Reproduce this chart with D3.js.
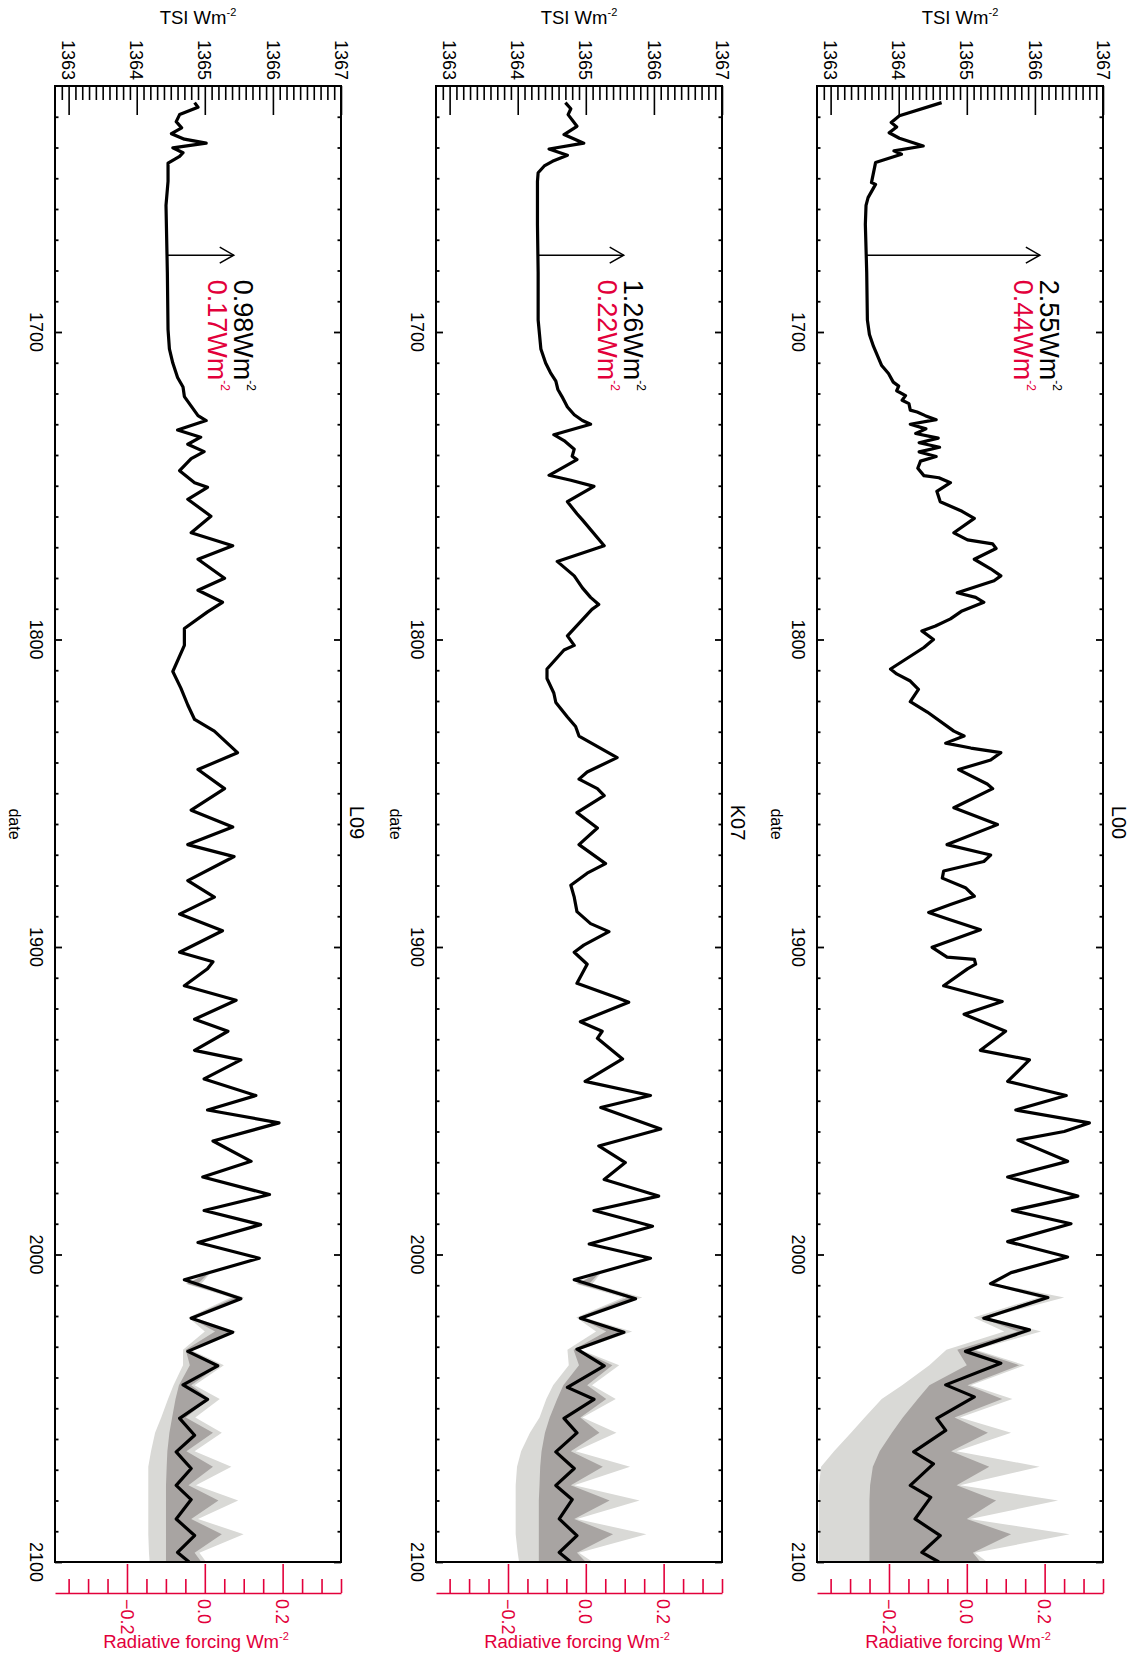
<!DOCTYPE html>
<html><head><meta charset="utf-8">
<script src="https://cdn.jsdelivr.net/npm/d3@7"></script>
<style>body{margin:0;background:#fff}svg{display:block}text{font-family:"Liberation Sans",Arial,Helvetica,sans-serif}</style>
</head><body><svg id="c" width="1136" height="1656"></svg>
<script>
// ---------- DATA ----------
const panelNames = ['L00', 'K07', 'L09'];
const tsiTicks = [1363, 1364, 1365, 1366, 1367];
const yearTicks = [1700, 1800, 1900, 2000, 2100];
const rfTicks = [-0.2, 0.0, 0.2];
const deltaTsi = [2.55, 1.26, 0.98];
const deltaRf = [0.44, 0.22, 0.17];

const l00Series = [[1625.4,1364.63],[1629.7,1364.01],[1631.9,1363.89],[1633.3,1363.97],[1635.2,1363.86],[1637.0,1364.01],[1639.5,1364.36],[1641.1,1363.93],[1642.2,1364.04],[1644.9,1363.66],[1651.4,1363.60],[1652.0,1363.66],[1656.3,1363.55],[1658.8,1363.52],[1665.0,1363.51],[1680.6,1363.53],[1696.1,1363.54],[1700.8,1363.57],[1704.7,1363.63],[1708.3,1363.70],[1710.9,1363.75],[1713.5,1363.85],[1716.3,1363.92],[1717.6,1364.00],[1719.1,1363.97],[1720.7,1364.10],[1722.2,1364.05],[1723.3,1364.15],[1725.4,1364.17],[1726.0,1364.27],[1727.2,1364.39],[1728.5,1364.55],[1730.0,1364.17],[1731.5,1364.40],[1733.0,1364.25],[1734.5,1364.58],[1736.0,1364.30],[1737.5,1364.60],[1739.0,1364.30],[1740.5,1364.55],[1742.0,1364.32],[1744.3,1364.28],[1746.7,1364.37],[1747.4,1364.59],[1749.0,1364.76],[1751.8,1364.56],[1755.2,1364.61],[1758.3,1364.93],[1760.6,1365.11],[1765.3,1364.81],[1767.6,1365.01],[1768.9,1365.38],[1770.4,1365.43],[1773.9,1365.11],[1777.0,1365.35],[1779.3,1365.50],[1780.9,1365.40],[1784.8,1364.86],[1786.3,1365.13],[1787.9,1365.25],[1790.7,1364.93],[1793.3,1364.76],[1795.6,1364.54],[1797.2,1364.34],[1800.0,1364.51],[1802.6,1364.37],[1809.6,1363.88],[1811.2,1363.97],[1813.5,1364.17],[1816.2,1364.29],[1820.2,1364.17],[1823.6,1364.42],[1829.8,1364.81],[1831.4,1364.96],[1833.7,1364.69],[1835.3,1365.06],[1836.8,1365.50],[1839.2,1365.35],[1842.3,1364.88],[1847.0,1365.30],[1848.5,1365.38],[1854.7,1364.81],[1860.2,1365.45],[1866.7,1364.71],[1870.1,1365.35],[1872.2,1365.25],[1875.3,1364.66],[1877.6,1364.64],[1880.7,1364.98],[1883.5,1365.11],[1886.2,1364.76],[1888.8,1364.44],[1890.8,1364.71],[1894.4,1365.20],[1900.1,1364.49],[1903.3,1364.71],[1904.0,1365.11],[1905.6,1365.13],[1907.1,1365.01],[1912.6,1364.66],[1917.7,1365.52],[1921.9,1364.96],[1927.4,1365.57],[1933.6,1365.20],[1936.7,1365.92],[1943.7,1365.60],[1948.3,1366.46],[1953.0,1365.72],[1957.2,1366.80],[1960.0,1366.43],[1962.8,1365.75],[1969.7,1366.48],[1974.8,1365.60],[1981.0,1366.63],[1985.7,1365.67],[1990.0,1366.53],[1995.8,1365.60],[2000.8,1366.48],[2005.9,1365.65],[2009.5,1365.35],[2014.0,1366.19],[2020.7,1365.25],[2024.5,1365.92],[2031.5,1364.98],[2035.4,1365.50],[2042.4,1364.69],[2046.3,1365.11],[2053.3,1364.56],[2057.2,1364.69],[2064.2,1364.22],[2068.1,1364.51],[2075.1,1364.17],[2079.0,1364.47],[2086.0,1364.24],[2091.4,1364.61],[2096.9,1364.34],[2100.0,1364.59]];

const k07Series = [[1625.4,1364.70],[1627.4,1364.78],[1629.3,1364.74],[1633.1,1364.87],[1635.8,1364.68],[1638.6,1364.97],[1640.5,1364.46],[1642.5,1364.73],[1644.5,1364.51],[1646.0,1364.39],[1648.2,1364.30],[1651.0,1364.29],[1665.0,1364.29],[1680.6,1364.30],[1696.1,1364.30],[1705.5,1364.34],[1710.1,1364.41],[1713.2,1364.48],[1716.0,1364.56],[1718.7,1364.59],[1721.0,1364.65],[1724.4,1364.73],[1726.9,1364.83],[1728.8,1364.95],[1730.0,1365.07],[1733.4,1364.53],[1735.3,1364.68],[1738.1,1364.83],[1740.4,1364.80],[1741.5,1364.87],[1746.6,1364.46],[1748.2,1364.78],[1750.2,1365.12],[1755.2,1364.73],[1759.1,1364.87],[1761.1,1364.95],[1769.5,1365.27],[1774.6,1364.58],[1779.3,1364.83],[1783.2,1364.95],[1786.3,1365.07],[1788.6,1365.19],[1790.2,1365.09],[1798.8,1364.73],[1801.9,1364.83],[1803.4,1364.68],[1809.6,1364.43],[1812.7,1364.43],[1817.4,1364.53],[1820.5,1364.56],[1825.2,1364.73],[1828.3,1364.85],[1831.4,1364.90],[1838.4,1365.46],[1843.1,1365.02],[1845.4,1364.90],[1848.5,1365.17],[1850.8,1365.27],[1856.3,1364.87],[1861.3,1365.17],[1866.7,1364.90],[1872.9,1365.29],[1876.0,1365.02],[1879.9,1364.78],[1883.8,1364.83],[1888.5,1364.87],[1892.4,1365.07],[1895.0,1365.34],[1899.4,1364.97],[1901.7,1364.83],[1905.6,1365.02],[1911.8,1364.87],[1916.5,1365.46],[1918.0,1365.63],[1924.3,1364.92],[1927.4,1365.24],[1929.7,1365.17],[1936.4,1365.54],[1943.7,1364.99],[1948.3,1365.95],[1952.2,1365.22],[1959.2,1366.10],[1964.7,1365.19],[1970.1,1365.58],[1975.6,1365.27],[1981.0,1366.07],[1985.7,1365.12],[1990.8,1365.98],[1996.6,1365.05],[2001.2,1365.95],[2008.2,1364.83],[2014.4,1365.73],[2020.7,1364.92],[2025.3,1365.56],[2030.8,1364.87],[2036.2,1365.27],[2043.2,1364.73],[2047.1,1365.12],[2053.3,1364.68],[2058.0,1364.87],[2064.2,1364.56],[2069.6,1364.83],[2075.1,1364.56],[2079.7,1364.80],[2086.0,1364.61],[2091.4,1364.87],[2096.9,1364.61],[2100.0,1364.78]];

const l09Series = [[1625.4,1364.85],[1626.9,1364.90],[1629.3,1364.63],[1631.6,1364.58],[1633.6,1364.66],[1635.5,1364.51],[1637.3,1364.70],[1638.6,1365.02],[1640.1,1364.53],[1641.7,1364.68],[1642.9,1364.63],[1645.1,1364.46],[1651.0,1364.46],[1658.8,1364.43],[1680.6,1364.45],[1699.2,1364.46],[1705.5,1364.48],[1710.1,1364.53],[1714.8,1364.60],[1717.9,1364.68],[1721.0,1364.70],[1724.1,1364.80],[1727.2,1364.90],[1728.8,1365.02],[1731.9,1364.60],[1734.2,1364.94],[1736.5,1364.75],[1738.9,1364.99],[1741.2,1364.80],[1745.1,1364.63],[1749.0,1364.85],[1750.5,1365.04],[1754.4,1364.75],[1759.9,1365.09],[1765.3,1364.80],[1769.5,1365.41],[1773.9,1364.90],[1780.1,1365.29],[1784.0,1364.90],[1787.9,1365.26],[1791.0,1365.04],[1796.4,1364.70],[1801.9,1364.70],[1810.4,1364.53],[1815.9,1364.65],[1821.3,1364.75],[1826.0,1364.85],[1829.8,1365.14],[1836.8,1365.48],[1842.3,1364.90],[1848.5,1365.29],[1855.5,1364.80],[1861.0,1365.41],[1866.7,1364.75],[1870.6,1365.43],[1872.2,1365.29],[1878.4,1364.75],[1883.8,1365.14],[1889.3,1364.63],[1894.7,1365.26],[1901.7,1364.63],[1904.8,1365.12],[1907.1,1365.04],[1912.6,1364.70],[1917.3,1365.46],[1923.5,1364.85],[1927.4,1365.34],[1933.6,1364.85],[1936.7,1365.53],[1942.9,1364.99],[1948.3,1365.75],[1953.0,1365.04],[1957.2,1366.09],[1963.1,1365.12],[1969.7,1365.68],[1974.8,1364.97],[1980.5,1365.95],[1985.7,1364.99],[1990.3,1365.82],[1996.1,1364.90],[2001.2,1365.80],[2008.2,1364.70],[2014.4,1365.53],[2020.7,1364.80],[2025.3,1365.41],[2031.5,1364.75],[2036.2,1365.19],[2042.4,1364.68],[2047.1,1365.04],[2053.3,1364.63],[2058.8,1364.85],[2064.2,1364.58],[2069.6,1364.80],[2075.1,1364.58],[2079.7,1364.80],[2086.0,1364.58],[2091.4,1364.85],[2096.9,1364.60],[2100.0,1364.77]];

// future uncertainty bands (outer light / inner dark)
const bandYears = [2006,2009.5,2014,2020.5,2025,2031,2036,2042.5,2047,2053,2058,2064,2069,2075,2080,2086,2091,2097,2100];
const l00LightLo = [1365.63,1365.30,1366.05,1365.10,1365.55,1364.70,1364.45,1364.05,1363.75,1363.50,1363.30,1363.05,1362.86,1362.83,1362.83,1362.83,1362.83,1362.83,1362.83];
const l00DarkLo  = [1365.64,1365.33,1366.12,1365.20,1365.75,1364.86,1365.00,1364.45,1364.28,1364.06,1363.90,1363.72,1363.62,1363.58,1363.57,1363.57,1363.57,1363.57,1363.57];
const l00DarkHi  = [1365.66,1365.38,1366.22,1365.28,1365.94,1365.08,1365.77,1365.01,1365.52,1364.82,1365.31,1364.77,1365.33,1364.85,1365.43,1365.00,1365.65,1365.09,1365.20];
const l00LightHi = [1365.68,1365.42,1366.43,1365.31,1366.09,1365.13,1365.85,1365.06,1365.67,1364.90,1365.65,1364.85,1366.07,1364.90,1366.34,1365.05,1366.51,1365.12,1365.30];
const k07LightLo = [1365.17,1364.85,1365.55,1364.86,1365.15,1364.73,1364.75,1364.52,1364.42,1364.32,1364.18,1364.05,1363.99,1363.97,1363.97,1363.97,1363.97,1364.00,1364.02];
const k07DarkLo  = [1365.18,1364.88,1365.62,1364.89,1365.30,1364.82,1364.90,1364.67,1364.58,1364.47,1364.40,1364.35,1364.33,1364.32,1364.31,1364.31,1364.31,1364.31,1364.31];
const k07DarkHi  = [1365.20,1365.05,1365.76,1364.95,1365.58,1364.90,1365.39,1365.02,1365.30,1364.92,1365.20,1364.78,1365.25,1364.78,1365.35,1364.83,1365.40,1364.87,1365.00];
const k07LightHi = [1365.22,1365.10,1365.83,1364.97,1365.68,1364.92,1365.49,1365.09,1365.44,1364.95,1365.45,1364.85,1365.65,1364.83,1365.79,1364.87,1365.89,1364.90,1365.10];
const l09LightLo = [1365.04,1364.72,1365.38,1364.76,1365.00,1364.68,1364.68,1364.54,1364.46,1364.36,1364.27,1364.21,1364.17,1364.17,1364.17,1364.17,1364.17,1364.18,1364.19];
const l09DarkLo  = [1365.05,1364.74,1365.44,1364.78,1365.15,1364.72,1364.78,1364.62,1364.57,1364.52,1364.48,1364.45,1364.44,1364.43,1364.43,1364.43,1364.43,1364.43,1364.43];
const l09DarkHi  = [1365.06,1364.90,1365.55,1364.82,1365.43,1364.77,1365.21,1364.80,1365.07,1364.72,1365.12,1364.73,1365.12,1364.76,1365.20,1364.80,1365.25,1364.85,1364.95];
const l09LightHi = [1365.08,1364.95,1365.58,1364.84,1365.46,1364.79,1365.28,1364.85,1365.22,1364.86,1365.25,1364.85,1365.39,1364.87,1365.49,1364.90,1365.57,1364.92,1365.02];

// ---------- LAYOUT / STYLE ----------
const RED = '#e2003b', LIGHT = '#d9d9d6', DARK = '#a8a4a2';
const TOP = 86, BOTTOM = 1562, W = 286;
const tsiDomain = [1362.8, 1367];
const svg = d3.select('#c');
const yScale = d3.scaleLinear().domain([1620, 2100]).range([TOP, BOTTOM]);

const panels = [
  {name: panelNames[0], left: 817, series: l00Series, ll: l00LightLo, dl: l00DarkLo, dh: l00DarkHi, lh: l00LightHi, dT: deltaTsi[0], dR: deltaRf[0]},
  {name: panelNames[1], left: 436, series: k07Series, ll: k07LightLo, dl: k07DarkLo, dh: k07DarkHi, lh: k07LightHi, dT: deltaTsi[1], dR: deltaRf[1]},
  {name: panelNames[2], left: 55,  series: l09Series, ll: l09LightLo, dl: l09DarkLo, dh: l09DarkHi, lh: l09LightHi, dT: deltaTsi[2], dR: deltaRf[2]}
];

function valueAt(series, yr) {
  const i = d3.bisector(d => d[0]).left(series, yr);
  const a = series[i - 1], b = series[i];
  const t = (yr - a[0]) / (b[0] - a[0]);
  return a[1] + t * (b[1] - a[1]);
}

function supText(sel, main, sup, supSize, shift) {
  sel.append('tspan').text(main);
  sel.append('tspan').text(sup).attr('font-size', supSize).attr('dy', -shift);
}

panels.forEach(p => {
  const g = svg.append('g');
  const x = d3.scaleLinear().domain(tsiDomain).range([p.left, p.left + W]);
  const rf = d3.scaleLinear().domain(tsiDomain.map(v => (v - 1365) * 0.175)).range([p.left, p.left + W]);
  const clipId = 'clip' + p.name;
  svg.append('clipPath').attr('id', clipId).append('rect')
    .attr('x', p.left).attr('y', TOP).attr('width', W).attr('height', BOTTOM - TOP);
  const plot = g.append('g').attr('clip-path', `url(#${clipId})`);
  const idx = d3.range(bandYears.length);
  const areaLight = d3.area().y(i => yScale(bandYears[i])).x0(i => x(p.ll[i])).x1(i => x(p.lh[i]));
  const areaDark = d3.area().y(i => yScale(bandYears[i])).x0(i => x(p.dl[i])).x1(i => x(p.dh[i]));
  plot.append('path').datum(idx).attr('d', areaLight).attr('fill', LIGHT);
  plot.append('path').datum(idx).attr('d', areaDark).attr('fill', DARK);
  const line = d3.line().x(d => x(d[1])).y(d => yScale(d[0]));
  plot.append('path').datum(p.series).attr('d', line).attr('fill', 'none')
    .attr('stroke', '#000').attr('stroke-width', 3.2).attr('stroke-linejoin', 'round');

  // box
  g.append('rect').attr('x', p.left).attr('y', TOP).attr('width', W).attr('height', BOTTOM - TOP)
    .attr('fill', 'none').attr('stroke', '#000').attr('stroke-width', 2);

  // TSI axis (top edge, ticks inward)
  const tsiMinor = d3.range(13629, 13670).map(v => v / 10).filter(v => !tsiTicks.includes(v));
  const ax1 = g.append('g').attr('transform', `translate(0,${TOP})`)
    .call(d3.axisTop(x).tickValues(tsiMinor).tickSize(-14).tickFormat(''));
  const ax2 = g.append('g').attr('transform', `translate(0,${TOP})`)
    .call(d3.axisTop(x).tickValues(tsiTicks).tickSize(-29).tickFormat(''));
  [ax1, ax2].forEach(a => { a.select('.domain').remove(); a.selectAll('line').attr('stroke', '#000').attr('stroke-width', 1.6); });
  g.selectAll(null).data(tsiTicks).join('text')
    .attr('transform', d => `translate(${x(d)},80) rotate(90)`)
    .attr('text-anchor', 'end').attr('dy', '0.35em').attr('font-size', 18).text(d => d);
  const tt = g.append('text').attr('x', p.left + W / 2).attr('y', 24).attr('text-anchor', 'middle').attr('font-size', 18.5);
  supText(tt, 'TSI Wm', '-2', 11, 8);

  // year axes (left & right edges, ticks inward)
  const yearMinor = d3.range(1630, 2100, 10).filter(v => !yearTicks.includes(v));
  [[d3.axisLeft, p.left], [d3.axisRight, p.left + W]].forEach(([fn, xx]) => {
    const a1 = g.append('g').attr('transform', `translate(${xx},0)`)
      .call(fn(yScale).tickValues(yearMinor).tickSize(-3.5).tickFormat(''));
    const a2 = g.append('g').attr('transform', `translate(${xx},0)`)
      .call(fn(yScale).tickValues(yearTicks).tickSize(-7).tickFormat(''));
    [a1, a2].forEach(a => { a.select('.domain').remove(); a.selectAll('line').attr('stroke', '#000').attr('stroke-width', 1.8); });
  });
  g.selectAll(null).data(yearTicks).join('text')
    .attr('transform', d => `translate(${p.left - 25},${yScale(d)}) rotate(90)`)
    .attr('text-anchor', 'middle').attr('font-size', 18).text(d => d);
  g.append('text').attr('transform', `translate(${p.left - 46},${yScale(1860)}) rotate(90)`)
    .attr('text-anchor', 'middle').attr('font-size', 16).text('date');
  g.append('text').attr('transform', `translate(${p.left + W + 9},${yScale(1859.5)}) rotate(90)`)
    .attr('text-anchor', 'middle').attr('font-size', 20).text(p.name);

  // radiative forcing axis (red, below box)
  const RFY = 1593;
  const rfMinor = d3.range(-35, 36, 5).map(v => v / 100).filter(v => !rfTicks.some(t => Math.abs(t - v) < 1e-6));
  const r1 = g.append('g').attr('transform', `translate(0,${RFY})`)
    .call(d3.axisTop(rf).tickValues(rfMinor).tickSize(14).tickSizeOuter(0).tickFormat(''));
  const r2 = g.append('g').attr('transform', `translate(0,${RFY})`)
    .call(d3.axisTop(rf).tickValues(rfTicks).tickSize(29).tickSizeOuter(0).tickFormat(''));
  r2.select('.domain').remove();
  [r1, r2].forEach(a => { a.selectAll('line, path').attr('stroke', RED).attr('stroke-width', 1.6); });
  g.selectAll(null).data(rfTicks).join('text')
    .attr('transform', d => `translate(${rf(d)},${RFY + 6}) rotate(90)`)
    .attr('text-anchor', 'start').attr('dy', '0.35em').attr('font-size', 18).attr('fill', RED)
    .text(d => d3.format('.1f')(d));
  const rt = g.append('text').attr('x', p.left + W / 2 - 2).attr('y', 1648).attr('text-anchor', 'middle')
    .attr('font-size', 18.5).attr('fill', RED);
  supText(rt, 'Radiative forcing Wm', '-2', 11, 8);

  // annotation arrow: Maunder minimum level -> +delta
  const ay = yScale(1675);
  const v0 = valueAt(p.series, 1675);
  const xs = x(v0), xe = x(v0 + p.dT);
  g.append('line').attr('x1', xs).attr('x2', xe).attr('y1', ay).attr('y2', ay)
    .attr('stroke', '#000').attr('stroke-width', 1.5);
  g.append('path').attr('d', `M${xe - 14},${ay - 8}L${xe},${ay}L${xe - 14},${ay + 8}`)
    .attr('fill', 'none').attr('stroke', '#000').attr('stroke-width', 1.5);
  const ty = yScale(1683);
  const t1 = g.append('text').attr('transform', `translate(${xe},${ty}) rotate(90)`).attr('font-size', 27).attr('fill', '#000');
  supText(t1, d3.format('.2f')(p.dT) + 'Wm', '-2', 12, 13);
  const t2 = g.append('text').attr('transform', `translate(${xe - 26},${ty}) rotate(90)`).attr('font-size', 27).attr('fill', RED);
  supText(t2, d3.format('.2f')(p.dR) + 'Wm', '-2', 12, 13);
});
</script>
</body></html>
